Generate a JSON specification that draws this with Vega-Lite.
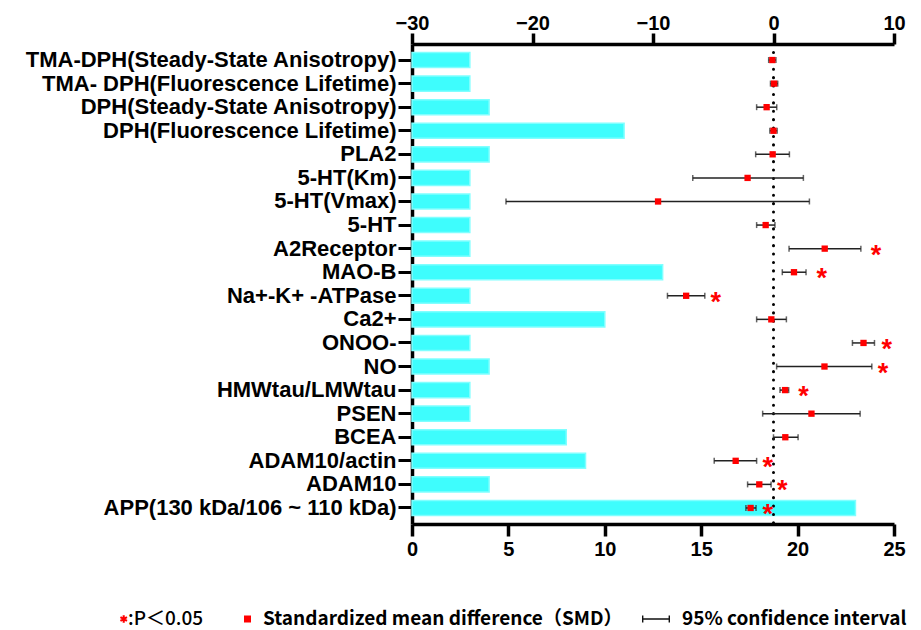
{
  "$schema": "https://vega.github.io/schema/vega-lite/v6.json",
  "autosize": "none",
  "width": 482,
  "height": 480,
  "padding": {"left": 412, "top": 44, "right": 27, "bottom": 106},
  "background": "white",
  "config": {"view": {"stroke": null}, "axis": {"grid": false}},
  "datasets": {
    "rows": [
      {"item": "TMA-DPH(Steady-State Anisotropy)", "n": 3, "smd": -0.1, "lo": -0.4, "hi": 0.2, "star": null},
      {"item": "TMA- DPH(Fluorescence Lifetime)", "n": 3, "smd": 0.05, "lo": -0.25, "hi": 0.35, "star": null},
      {"item": "DPH(Steady-State Anisotropy)", "n": 4, "smd": -0.57, "lo": -1.4, "hi": 0.27, "star": null},
      {"item": "DPH(Fluorescence Lifetime)", "n": 11, "smd": 0.0, "lo": -0.3, "hi": 0.3, "star": null},
      {"item": "PLA2", "n": 4, "smd": -0.07, "lo": -1.48, "hi": 1.32, "star": null},
      {"item": "5-HT(Km)", "n": 3, "smd": -2.15, "lo": -6.7, "hi": 2.48, "star": null},
      {"item": "5-HT(Vmax)", "n": 3, "smd": -9.58, "lo": -22.2, "hi": 2.98, "star": null},
      {"item": "5-HT", "n": 3, "smd": -0.65, "lo": -1.4, "hi": 0.12, "star": null},
      {"item": "A2Receptor", "n": 3, "smd": 4.25, "lo": 1.29, "hi": 7.25, "star": 8.5},
      {"item": "MAO-B", "n": 13, "smd": 1.7, "lo": 0.73, "hi": 2.7, "star": 4.0},
      {"item": "Na+-K+ -ATPase", "n": 3, "smd": -7.25, "lo": -8.8, "hi": -5.7, "star": -4.8},
      {"item": "Ca2+", "n": 10, "smd": -0.18, "lo": -1.4, "hi": 1.07, "star": null},
      {"item": "ONOO-", "n": 3, "smd": 7.47, "lo": 6.55, "hi": 8.38, "star": 9.4},
      {"item": "NO", "n": 4, "smd": 4.23, "lo": 0.26, "hi": 8.16, "star": 9.08},
      {"item": "HMWtau/LMWtau", "n": 3, "smd": 0.96, "lo": 0.54, "hi": 1.26, "star": 2.48},
      {"item": "PSEN", "n": 3, "smd": 3.15, "lo": -0.9, "hi": 7.19, "star": null},
      {"item": "BCEA", "n": 8, "smd": 0.98, "lo": 0.0, "hi": 2.04, "star": null},
      {"item": "ADAM10/actin", "n": 9, "smd": -3.14, "lo": -4.92, "hi": -1.4, "star": -0.48},
      {"item": "ADAM10", "n": 4, "smd": -1.18, "lo": -2.15, "hi": -0.2, "star": 0.73},
      {"item": "APP(130 kDa/106 ~ 110 kDa)", "n": 23, "smd": -1.9, "lo": -2.29, "hi": -1.45, "star": -0.48}
    ],
    "legendItems": [
      {"kind": ":P＜0.05"},
      {"kind": "Standardized mean difference（SMD）"},
      {"kind": "95% confidence interval"}
    ]
  },
  "data": {"name": "rows"},
  "encoding": {
    "y": {
      "field": "item", "type": "nominal", "sort": null, "title": null,
      "scale": {"paddingInner": 0.36, "paddingOuter": 0.36},
      "axis": {
        "domainColor": "black", "domainWidth": 3.5, "tickColor": "black", "tickWidth": 3, "tickSize": 14,
        "labelFont": "Liberation Sans", "labelFontSize": 22, "labelFontWeight": "bold", "labelColor": "black",
        "labelPadding": 2, "labelLimit": 0
      }
    }
  },
  "layer": [
    {
      "mark": {"type": "bar", "fill": "#3EFDFD", "stroke": "#80FFFF", "strokeWidth": 1.5},
      "encoding": {
        "x": {
          "field": "n", "type": "quantitative", "title": null,
          "scale": {"domain": [0, 25], "nice": false},
          "axis": {
            "orient": "bottom", "values": [0, 5, 10, 15, 20, 25],
            "domainColor": "black", "domainWidth": 3.5, "tickColor": "black", "tickWidth": 3.5, "tickSize": 12,
            "labelFont": "Liberation Sans", "labelFontSize": 20, "labelFontWeight": "bold", "labelColor": "black",
            "labelPadding": 3, "labelFlush": false
          }
        }
      }
    },
    {
      "layer": [
        {
          "data": {"values": [{}]},
          "mark": {"type": "rule", "color": "black", "strokeWidth": 3, "strokeDash": [0.1, 8.3], "strokeCap": "round"},
          "encoding": {
            "x": {
              "datum": 0, "type": "quantitative", "title": null,
              "scale": {"domain": [-30, 10], "nice": false},
              "axis": {
                "orient": "top", "values": [-30, -20, -10, 0, 10],
                "domainColor": "black", "domainWidth": 3.5, "tickColor": "black", "tickWidth": 3.5, "tickSize": 11,
                "labelFont": "Liberation Sans", "labelFontSize": 20, "labelFontWeight": "bold", "labelColor": "black",
                "labelPadding": 0, "labelFlush": false
              }
            },
            "y": null
          }
        },
        {
          "mark": {"type": "rule", "color": "#222222", "strokeWidth": 1.5},
          "encoding": {
            "x": {"field": "lo", "type": "quantitative", "title": null},
            "x2": {"field": "hi"}
          }
        },
        {
          "mark": {"type": "tick", "color": "#222222", "thickness": 1.5, "size": 6},
          "encoding": {"x": {"field": "lo", "type": "quantitative", "title": null}}
        },
        {
          "mark": {"type": "tick", "color": "#222222", "thickness": 1.5, "size": 6},
          "encoding": {"x": {"field": "hi", "type": "quantitative", "title": null}}
        },
        {
          "mark": {"type": "point", "shape": "square", "filled": true, "color": "#FF0000", "size": 40, "opacity": 1},
          "encoding": {"x": {"field": "smd", "type": "quantitative", "title": null}}
        },
        {
          "transform": [{"filter": "datum.star != null"}],
          "mark": {"type": "text", "text": "*", "color": "#FF0000", "font": "Liberation Sans", "fontSize": 27, "fontWeight": "bold", "align": "center", "baseline": "alphabetic", "dy": 15},
          "encoding": {"x": {"field": "star", "type": "quantitative", "title": null}}
        },
        {
          "data": {"name": "legendItems"},
          "mark": {"type": "point", "filled": true, "opacity": 0},
          "encoding": {
            "y": null,
            "color": {
              "field": "kind", "type": "nominal", "sort": null, "title": null,
              "scale": {"domain": [":P＜0.05", "Standardized mean difference（SMD）", "95% confidence interval"], "range": ["#FF0000", "#FF0000", "#111111"]},
              "legend": {
                "orient": "none", "legendX": -324, "legendY": 561, "direction": "horizontal",
                "columnPadding": 19, "symbolSize": 784, "labelOffset": 12, "padding": 0,
                "labelFont": "Noto Sans CJK SC", "labelFontSize": 19, "labelFontWeight": "bold", "labelColor": "black", "labelLimit": 0,
                "symbolStrokeWidth": 0, "symbolOpacity": 1,
                "encode": {
                  "symbols": {"update": {"opacity": {"value": 1}, "fillOpacity": {"value": 1}}},
                  "labels": {"update": {
                    "fontWeight": {"signal": "datum.label === ':P＜0.05' ? 500 : 'bold'"}
                  }}
                }
              }
            },
            "shape": {
              "field": "kind", "type": "nominal", "sort": null, "title": null,
              "scale": {
                "domain": [":P＜0.05", "Standardized mean difference（SMD）", "95% confidence interval"],
                "range": [
                  "M1.475,-0.27L1.625,-0.27L1.625,0.27L1.475,0.27ZM1.7463,-0.2L1.8213,-0.07L1.3537,0.2L1.2787,0.07ZM1.8213,0.07L1.7463,0.2L1.2787,-0.07L1.3537,-0.2Z",
                  "M0.5,-0.25L1,-0.25L1,0.25L0.5,0.25Z",
                  "M-1,-0.25L-0.9,-0.25L-0.9,-0.05L0.9,-0.05L0.9,-0.25L1,-0.25L1,0.25L0.9,0.25L0.9,0.05L-0.9,0.05L-0.9,0.25L-1,0.25Z"
                ]
              }
            }
          }
        }
      ]
    }
  ],
  "resolve": {"scale": {"x": "independent"}, "axis": {"x": "independent"}}
}
